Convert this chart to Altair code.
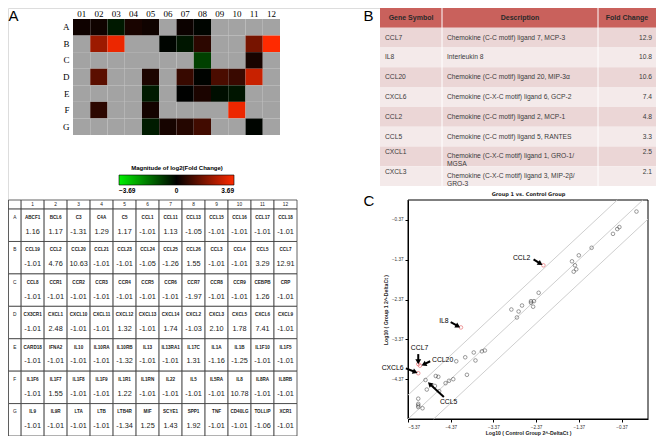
import math
import altair as alt
import pandas as pd

# ---------------- Panel A data ----------------
row_names = ["A", "B", "C", "D", "E", "F", "G"]
col_names = ["01", "02", "03", "04", "05", "06", "07", "08", "09", "10", "11", "12"]
col_numbers = ["1", "2", "3", "4", "5", "6", "7", "8", "9", "10", "11", "12"]

genes_A = ["ABCF1", "BCL6", "C3", "C4A", "C5", "CCL1", "CCL11", "CCL13", "CCL15", "CCL16", "CCL17", "CCL18"]
genes_B = ["CCL19", "CCL2", "CCL20", "CCL21", "CCL23", "CCL24", "CCL25", "CCL26", "CCL3", "CCL4", "CCL5", "CCL7"]
genes_C = ["CCL8", "CCR1", "CCR2", "CCR3", "CCR4", "CCR5", "CCR6", "CCR7", "CCR8", "CCR9", "CEBPB", "CRP"]
genes_D = ["CX3CR1", "CXCL1", "CXCL10", "CXCL11", "CXCL12", "CXCL13", "CXCL14", "CXCL2", "CXCL3", "CXCL5", "CXCL6", "CXCL9"]
genes_E = ["CARD18", "IFNA2", "IL10", "IL10RA", "IL10RB", "IL13", "IL13RA1", "IL17C", "IL1A", "IL1B", "IL1F10", "IL1F5"]
genes_F = ["IL1F6", "IL1F7", "IL1F8", "IL1F9", "IL1R1", "IL1RN", "IL22", "IL5", "IL5RA", "IL8", "IL8RA", "IL8RB"]
genes_G = ["IL9", "IL9R", "LTA", "LTB", "LTB4R", "MIF", "SCYE1", "SPP1", "TNF", "CD40LG", "TOLLIP", "XCR1"]

fc_A = [1.16, 1.17, -1.31, 1.29, 1.17, -1.01, 1.13, -1.05, -1.01, -1.01, -1.01, -1.01]
fc_B = [-1.01, 4.76, 10.63, -1.01, -1.01, -1.05, -1.26, 1.55, -1.01, -1.01, 3.29, 12.91]
fc_C = [-1.01, -1.01, -1.01, -1.01, -1.01, -1.01, -1.01, -1.97, -1.01, -1.01, 1.26, -1.01]
fc_D = [-1.01, 2.48, -1.01, -1.01, 1.32, -1.01, 1.74, -1.03, 2.10, 1.78, 7.41, -1.01]
fc_E = [-1.01, -1.01, -1.01, -1.01, -1.32, -1.01, -1.01, 1.31, -1.16, -1.25, -1.01, -1.01]
fc_F = [-1.01, 1.55, -1.01, -1.01, 1.22, -1.01, -1.01, -1.01, -1.01, 10.78, -1.01, -1.01]
fc_G = [-1.01, -1.01, -1.01, -1.01, -1.34, 1.25, 1.43, 1.92, -1.01, -1.01, -1.06, -1.01]

# 1 = coloured in the heat map, 0 = grey
det_A = [1, 1, 1, 1, 1, 0, 1, 1, 0, 0, 0, 0]
det_B = [0, 1, 1, 0, 0, 1, 1, 1, 0, 0, 1, 1]
det_C = [0, 0, 0, 0, 0, 0, 0, 1, 0, 0, 1, 0]
det_D = [0, 1, 0, 0, 1, 0, 1, 1, 1, 1, 1, 0]
det_E = [0, 0, 0, 0, 1, 0, 1, 1, 1, 1, 0, 0]
det_F = [0, 1, 0, 0, 1, 0, 0, 0, 0, 1, 0, 0]
det_G = [0, 0, 0, 0, 1, 1, 1, 1, 0, 0, 1, 0]

legend_values = [-3.69, 0, 3.69]

# ---------------- Panel B data ----------------
b_headers = ["Gene Symbol", "Description", "Fold Change"]
b_genes = ["CCL7", "IL8", "CCL20", "CXCL6", "CCL2", "CCL5", "CXCL1", "CXCL3"]
b_desc = [
    "Chemokine (C-C motif) ligand 7, MCP-3",
    "Interleukin 8",
    "Chemokine (C-C motif) ligand 20, MIP-3\u03b1",
    "Chemokine (C-X-C motif) ligand 6, GCP-2",
    "Chemokine (C-C motif) ligand 2, MCP-1",
    "Chemokine (C-C motif) ligand 5, RANTES",
    "Chemokine (C-X-C motif) ligand 1, GRO-1/\nMGSA",
    "Chemokine (C-X-C motif) ligand 3, MIP-2\u03b2/\nGRO-3",
]
b_fc = [12.9, 10.8, 10.6, 7.4, 4.8, 3.3, 2.5, 2.1]

# ---------------- Panel C data ----------------
ctrl_x = [-0.02, -0.42, -0.47, -0.57, -1.07, -1.37, -1.53, -1.46, -1.43, -1.49,
          -2.31, -2.42, -2.49, -2.49, -2.44, -2.70, -2.95, -2.78, -2.82,
          -3.57, -3.64, -3.83, -3.79, -4.03, -4.24, -3.99, -4.31, -4.41, -4.49,
          -4.66, -4.72, -4.96, -4.74, -4.64, -4.93, -5.13, -5.13, -5.13, -5.13, -5.03,
          -2.20, -4.13, -5.13, -5.09, -5.13]
group_y = [-0.16, -0.55, -0.60, -0.72, -1.07, -1.26, -1.41, -1.51, -1.61, -1.67,
           -2.20, -2.41, -2.41, -2.45, -2.55, -2.52, -2.62, -2.67, -2.82,
           -3.65, -3.67, -3.70, -3.90, -3.82, -3.92, -4.26, -4.37, -4.41, -4.47,
           -4.31, -4.29, -4.39, -4.54, -4.67, -4.63, -4.86, -4.99, -5.03, -5.07, -5.10,
           -1.51, -3.07, -3.99, -4.03, -4.22]
highlight = [0] * 40 + [1, 1, 1, 1, 1]

ann_text = ["CCL2", "IL8", "CCL7", "CCL20", "CXCL6", "CCL5"]
ann_tx = [-2.71, -4.53, -5.10, -4.56, -5.73, -4.42]
ann_ty = [-1.32, -2.90, -3.59, -3.88, -4.08, -4.95]
arr_x1 = [-2.43, -4.37, -5.13, -4.85, -5.42, -4.53]
arr_y1 = [-1.36, -2.94, -3.74, -3.92, -4.10, -4.82]
arr_x2 = [-2.27, -4.20, -5.13, -5.00, -5.20, -4.86]
arr_y2 = [-1.47, -3.04, -3.93, -4.00, -4.19, -4.49]

diag_offsets = [0.6, 0.0, -0.6]
tick_vals = [-5.37, -4.37, -3.37, -2.37, -1.37, -0.37]
x_dom = [-5.37, 0.25]
y_dom = [-5.37, 0.13]

# =============== layout (canvas pixels; page = canvas + 8) ===============
W, H = 648, 428
SANS = "Liberation Sans"
SERIF = "Liberation Serif"

HEAT_X = [65, 272]
HEAT_Y = [11, 127]
TA_X = [0.5, 289]
TA_Y = [192, 428]
TB_X = [372, 648]
TB_Y = [0, 178]
SC_X = [400, 640]
SC_Y = [411, 192]

# ---------------- heat map ----------------
all_genes = [genes_A, genes_B, genes_C, genes_D, genes_E, genes_F, genes_G]
all_fc = [fc_A, fc_B, fc_C, fc_D, fc_E, fc_F, fc_G]
all_det = [det_A, det_B, det_C, det_D, det_E, det_F, det_G]
recs = []
for r in range(7):
    for c in range(12):
        recs.append(dict(row=row_names[r], col=col_names[c],
                         gene=all_genes[r][c], fc=all_fc[r][c], det=all_det[r][c]))
df = pd.DataFrame(recs)

heat = alt.Chart(df).transform_calculate(
    lfc="datum.fc >= 0 ? log(datum.fc) / log(2) : -log(-datum.fc) / log(2)"
).mark_rect().encode(
    x=alt.X("col:O", sort=col_names,
            scale=alt.Scale(range=HEAT_X, paddingInner=0, paddingOuter=0),
            axis=alt.Axis(orient="top", offset=-HEAT_Y[0], title=None, labelAngle=0,
                          ticks=False, domain=False, labelFont=SERIF, labelFontSize=9,
                          labelPadding=1, labelColor="black")),
    y=alt.Y("row:O", sort=row_names,
            scale=alt.Scale(range=HEAT_Y, paddingInner=0, paddingOuter=0),
            axis=alt.Axis(orient="left", offset=-HEAT_X[0], title="A", titleAngle=0,
                          titleX=-HEAT_X[0], titleY=0, titleAlign="left",
                          titleBaseline="top", titleFont=SANS, titleFontSize=15,
                          titleFontWeight="normal", titleColor="black", ticks=False,
                          domain=False, labelFont=SERIF, labelFontSize=9,
                          labelPadding=4, labelColor="black")),
    color=alt.condition(
        "datum.det == 0",
        alt.value("#a3a3a3"),
        alt.Color("lfc:Q",
                  scale=alt.Scale(domain=[-3.69, 0, 3.69],
                                  range=["#00f000", "#000000", "#ff2a00"],
                                  interpolate="rgb"),
                  legend=alt.Legend(
                      orient="none", legendX=111, legendY=157, direction="horizontal",
                      title="Magnitude of log2(Fold Change)", titleFont=SANS,
                      titleFontSize=6, titleFontWeight="bold", titleAnchor="middle",
                      titleColor="black", titlePadding=4,
                      gradientLength=115, gradientThickness=10,
                      gradientStrokeColor="black", gradientStrokeWidth=0.6,
                      values=legend_values,
                      labelExpr="datum.value == 0 ? '0' : format(datum.value, '.2f')",
                      labelFont=SANS, labelFontSize=6.5, labelFontWeight="bold",
                      labelAlign="center", labelColor="black", labelOffset=3)),
    ),
)

# ---------------- table A ----------------
LAB_W = 0.55
HDR_H = 0.28
cells, texts = [], []
cells.append(dict(x0=0, x1=LAB_W, y0=0, y1=HDR_H))
for c in range(12):
    cells.append(dict(x0=LAB_W + c, x1=LAB_W + c + 1, y0=0, y1=HDR_H))
    texts.append(dict(kind="hdr", t=col_numbers[c], xc=LAB_W + c + 0.5, yc=HDR_H / 2))
for r in range(7):
    top = HDR_H + r
    cells.append(dict(x0=0, x1=LAB_W, y0=top, y1=top + 1))
    texts.append(dict(kind="hdr", t=row_names[r], xc=LAB_W / 2, yc=top + 0.27))
    for c in range(12):
        cells.append(dict(x0=LAB_W + c, x1=LAB_W + c + 1, y0=top, y1=top + 1))
        texts.append(dict(kind="gene", t=all_genes[r][c], xc=LAB_W + c + 0.5, yc=top + 0.27))
        texts.append(dict(kind="val", t=format(all_fc[r][c], ".2f"),
                          xc=LAB_W + c + 0.5, yc=top + 0.70))
cells_df = pd.DataFrame(cells)
texts_df = pd.DataFrame(texts)

ta_x = alt.Scale(domain=[0, 12 + LAB_W], range=TA_X, nice=False, zero=False)
ta_y = alt.Scale(domain=[0, 7 + HDR_H], range=TA_Y, nice=False, zero=False)

tA_rect = alt.Chart(cells_df).mark_rect(fill="white", stroke="#3a3a3a", strokeWidth=0.8).encode(
    x=alt.X("x0:Q", scale=ta_x, axis=None), x2="x1",
    y=alt.Y("y0:Q", scale=ta_y, axis=None), y2="y1")


def ttext(kind, size, weight):
    return alt.Chart(texts_df).transform_filter(f"datum.kind == '{kind}'").mark_text(
        font=SANS, fontSize=size, fontWeight=weight, color="#1a1a1a", baseline="middle"
    ).encode(x=alt.X("xc:Q", scale=ta_x, axis=None),
             y=alt.Y("yc:Q", scale=ta_y, axis=None), text="t:N")


tableA = alt.layer(tA_rect, ttext("hdr", 4.8, "normal"), ttext("gene", 4.6, "bold"),
                   ttext("val", 7.3, "normal"))

# ---------------- table B ----------------
COLW = [62, 156, 58]
edges = [0, COLW[0], COLW[0] + COLW[1], sum(COLW)]
bcells = []
for j in range(3):
    bcells.append(dict(x0=edges[j], x1=edges[j + 1], y0=0, y1=1, band="hdr"))
for i in range(8):
    for j in range(3):
        bcells.append(dict(x0=edges[j], x1=edges[j + 1], y0=1 + i, y1=2 + i,
                           band="odd" if i % 2 == 0 else "even"))
bcells_df = pd.DataFrame(bcells)
bhdr_df = pd.DataFrame(dict(t=b_headers, xc=[(edges[j] + edges[j + 1]) / 2 for j in range(3)],
                            yc=[0.5, 0.5, 0.5]))
brows = []
for i in range(8):
    nl = b_desc[i].count("\n") + 1
    brows.append(dict(gene=b_genes[i], desc=b_desc[i], fc=b_fc[i],
                      yc=1.5 + i, yfirst=1.5 + i - 0.2 * (nl - 1),
                      xl=edges[0], xd=edges[1], xr=edges[3]))
brows_df = pd.DataFrame(brows)
bsep_df = pd.DataFrame(dict(x=[edges[1], edges[2]], y0=[0, 0], y1=[9, 9]))

bx = alt.Scale(domain=[0, sum(COLW)], range=TB_X, nice=False, zero=False)
by = alt.Scale(domain=[0, 9], range=TB_Y, nice=False, zero=False)
baxis = alt.Axis(orient="left", offset=-TB_X[0], title="B", labels=False, ticks=False,
                 domain=False, grid=False, titleAngle=0, titleX=-17, titleY=0,
                 titleAlign="left", titleBaseline="top", titleFont=SANS, titleFontSize=15,
                 titleFontWeight="normal", titleColor="black")

b_rect = alt.Chart(bcells_df).mark_rect().encode(
    x=alt.X("x0:Q", scale=bx, axis=None), x2="x1",
    y=alt.Y("y0:Q", scale=by, axis=baxis), y2="y1",
    color=alt.Color("band:N", scale=alt.Scale(domain=["hdr", "odd", "even"],
                                              range=["#c9615c", "#ebd6d6", "#f4eaea"]),
                    legend=None))
b_sep = alt.Chart(bsep_df).mark_rule(color="white", strokeWidth=1).encode(
    x=alt.X("x:Q", scale=bx, axis=None), y=alt.Y("y0:Q", scale=by, axis=baxis), y2="y1")
b_hdr = alt.Chart(bhdr_df).mark_text(font=SANS, fontSize=7, fontWeight="bold",
                                     color="#2a2a2a").encode(
    x=alt.X("xc:Q", scale=bx, axis=None), y=alt.Y("yc:Q", scale=by, axis=baxis), text="t:N")
b_gene = alt.Chart(brows_df).mark_text(font=SANS, fontSize=6.7, color="#3a3a3a",
                                       align="left", dx=5).encode(
    x=alt.X("xl:Q", scale=bx, axis=None), y=alt.Y("yfirst:Q", scale=by, axis=baxis),
    text="gene:N")
b_desc_t = alt.Chart(brows_df).mark_text(font=SANS, fontSize=6.7, color="#3a3a3a",
                                         align="left", dx=5, lineBreak="\n",
                                         lineHeight=8).encode(
    x=alt.X("xd:Q", scale=bx, axis=None), y=alt.Y("yc:Q", scale=by, axis=baxis),
    text="desc:N")
b_fc_t = alt.Chart(brows_df).mark_text(font=SANS, fontSize=6.7, color="#3a3a3a",
                                       align="right", dx=-4).encode(
    x=alt.X("xr:Q", scale=bx, axis=None), y=alt.Y("yfirst:Q", scale=by, axis=baxis),
    text=alt.Text("fc:Q", format=".1f"))
tableB = alt.layer(b_rect, b_sep, b_hdr, b_gene, b_desc_t, b_fc_t)

# ---------------- scatter C ----------------
pts_df = pd.DataFrame(dict(cx=ctrl_x, gy=group_y, hl=highlight))
ann_df = pd.DataFrame(dict(t=ann_text, x=ann_tx, y=ann_ty))
PXX = (SC_X[1] - SC_X[0]) / (x_dom[1] - x_dom[0])
PXY = (SC_Y[0] - SC_Y[1]) / (y_dom[1] - y_dom[0])
angles = []
for i in range(len(arr_x1)):
    ddx = (arr_x2[i] - arr_x1[i]) * PXX
    ddy = -(arr_y2[i] - arr_y1[i]) * PXY
    angles.append((math.degrees(math.atan2(ddx, -ddy)) + 360) % 360)
arr_df = pd.DataFrame(dict(x1=arr_x1, y1=arr_y1, x2=arr_x2, y2=arr_y2, ang=angles))

segs = []
for k in diag_offsets:
    xa = max(x_dom[0], y_dom[0] - k)
    xb = min(x_dom[1], y_dom[1] - k)
    segs.append(dict(x1=xa, y1=xa + k, x2=xb, y2=xb + k))
lines_df = pd.DataFrame(segs)
frame_df = pd.DataFrame(dict(x0=[x_dom[0]], x1=[x_dom[1]], y0=[y_dom[0]], y1=[y_dom[1]]))

sx = alt.Scale(domain=x_dom, range=SC_X, nice=False, zero=False)
sy = alt.Scale(domain=y_dom, range=SC_Y, nice=False, zero=False)
ax_x = alt.Axis(orient="bottom", offset=-(H - SC_Y[0]), values=tick_vals, format=".2f",
                grid=False, tickSize=3, tickColor="black", domainColor="black",
                labelFont=SANS, labelFontSize=4.6, labelColor="#333", labelPadding=2,
                title="Log10 ( Control Group 2^-DeltaCt )", titleFont=SANS,
                titleFontSize=5.2, titleFontWeight="bold", titleColor="#222", titlePadding=2)
ax_y = alt.Axis(orient="left", offset=-SC_X[0], values=tick_vals[1:], format=".2f",
                grid=False, tickSize=3, tickColor="black", domainColor="black",
                labelFont=SANS, labelFontSize=4.6, labelColor="#333", labelPadding=2,
                title="Log10 ( Group 1 2^-DeltaCt )", titleFont=SANS,
                titleFontSize=5.2, titleFontWeight="bold", titleColor="#222", titlePadding=3)
ax_top = alt.Axis(orient="top", offset=-SC_Y[1], labels=False, ticks=False, domain=False,
                  grid=False, title="Group 1 vs. Control Group", titleFont="DejaVu Sans",
                  titleFontSize=5, titleFontWeight="bold", titleColor="#222", titlePadding=4)
ax_c = alt.Axis(orient="left", offset=-SC_X[0], labels=False, ticks=False, domain=False,
                grid=False, title="C", titleAngle=0, titleX=-45, titleY=SC_Y[1] - 7,
                titleAlign="left", titleBaseline="top", titleFont=SANS, titleFontSize=15,
                titleFontWeight="normal", titleColor="black")

c_frame = alt.Chart(frame_df).mark_rect(fillOpacity=0, stroke="black", strokeWidth=1).encode(
    x=alt.X("x0:Q", scale=sx, axis=ax_top), x2="x1",
    y=alt.Y("y0:Q", scale=sy, axis=ax_c), y2="y1")
c_lines = alt.Chart(lines_df).mark_rule(color="#c8c8c8", strokeWidth=0.9).encode(
    x=alt.X("x1:Q", scale=sx, axis=ax_x), x2="x2",
    y=alt.Y("y1:Q", scale=sy, axis=ax_y), y2="y2")
c_pts = alt.Chart(pts_df).mark_point(shape="circle", size=13, strokeWidth=0.7,
                                     filled=False).encode(
    x=alt.X("cx:Q", scale=sx, axis=ax_x), y=alt.Y("gy:Q", scale=sy, axis=ax_y),
    color=alt.Color("hl:N", scale=alt.Scale(domain=[0, 1], range=["#333333", "#e0393e"]),
                    legend=None))
c_arr = alt.Chart(arr_df).mark_rule(color="black", strokeWidth=2).encode(
    x=alt.X("x1:Q", scale=sx, axis=ax_x), x2="x2",
    y=alt.Y("y1:Q", scale=sy, axis=ax_y), y2="y2")
c_head = alt.Chart(arr_df).mark_point(shape="triangle-up", filled=True, size=34,
                                      color="black", opacity=1).encode(
    x=alt.X("x2:Q", scale=sx, axis=ax_x), y=alt.Y("y2:Q", scale=sy, axis=ax_y),
    angle=alt.Angle("ang:Q", scale=None))
c_lab = alt.Chart(ann_df).mark_text(font=SANS, fontSize=6.8, color="black").encode(
    x=alt.X("x:Q", scale=sx, axis=ax_x), y=alt.Y("y:Q", scale=sy, axis=ax_y), text="t:N")

scatter = alt.layer(c_frame, alt.layer(c_lines, c_pts, c_arr, c_head, c_lab)).resolve_axis(
    x="independent", y="independent")

chart = alt.layer(heat, tableA, tableB, scatter).resolve_scale(
    x="independent", y="independent", color="independent"
).properties(
    width=W, height=H, padding=0, autosize=alt.AutoSizeParams(type="none"),
).configure_view(stroke=None).configure(background="white")

chart.save("out.html", embed_options={"renderer": "svg", "actions": False})
